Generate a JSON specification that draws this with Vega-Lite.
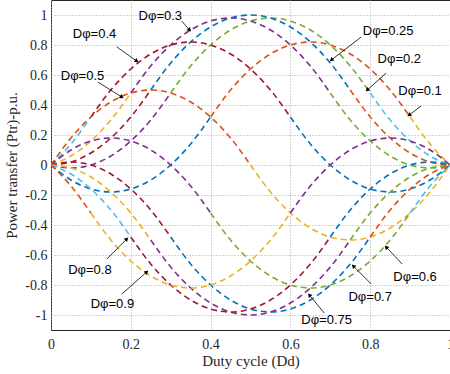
{
  "$schema": "https://vega.github.io/schema/vega-lite/v6.json",
  "width": 399,
  "height": 330,
  "autosize": {"type": "none"},
  "padding": {"left": 51, "top": 0, "right": 0, "bottom": 44},
  "background": "white",
  "config": {
    "view": {"stroke": "#262626", "strokeWidth": 1},
    "axis": {
      "labelFont": "Liberation Serif", "labelFontSize": 14, "labelColor": "#262626",
      "titleFont": "Liberation Serif", "titleFontSize": 15, "titleFontWeight": "normal", "titleColor": "#262626",
      "grid": true, "gridColor": "#a8a8a8", "gridDash": [1, 2], "gridWidth": 1,
      "domain": false, "ticks": false, "labelOverlap": false, "labelBound": false
    }
  },
  "datasets": {
    "curves": [
      {"piece": "0.1a", "ci": 1, "d": [0,0.05,0.1,0.15,0.2,0.25,0.3,0.35,0.4], "p": [0,-0.1,-0.16,-0.18,-0.16,-0.1,0,0.14,0.32]},
      {"piece": "0.1b", "ci": 2, "d": [0.4,0.45,0.5,0.55,0.6,0.65,0.7,0.75,0.8,0.85,0.9], "p": [0.32,0.5,0.64,0.74,0.8,0.82,0.8,0.74,0.64,0.5,0.32]},
      {"piece": "0.1c", "ci": 3, "d": [0.9,0.95,1], "p": [0.32,0.14,0]},
      {"piece": "0.2a", "ci": 4, "d": [0,0.05,0.1,0.15,0.2,0.25,0.3], "p": [0,-0.02,0,0.06,0.16,0.3,0.48]},
      {"piece": "0.2b", "ci": 5, "d": [0.3,0.35,0.4,0.45,0.5,0.55,0.6,0.65,0.7,0.75,0.8], "p": [0.48,0.66,0.8,0.9,0.96,0.98,0.96,0.9,0.8,0.66,0.48]},
      {"piece": "0.2c", "ci": 6, "d": [0.8,0.85,0.9,0.95,1], "p": [0.48,0.3,0.16,0.06,0]},
      {"piece": "0.25a", "ci": 7, "d": [0,0.05,0.1,0.15,0.2,0.25], "p": [0,0.02,0.08,0.18,0.32,0.5]},
      {"piece": "0.25b", "ci": 1, "d": [0.25,0.3,0.35,0.4,0.45,0.5,0.55,0.6,0.65,0.7,0.75], "p": [0.5,0.68,0.82,0.92,0.98,1,0.98,0.92,0.82,0.68,0.5]},
      {"piece": "0.25c", "ci": 2, "d": [0.75,0.8,0.85,0.9,0.95,1], "p": [0.5,0.32,0.18,0.08,0.02,0]},
      {"piece": "0.3a", "ci": 3, "d": [0,0.05,0.1,0.15,0.2], "p": [0,0.06,0.16,0.3,0.48]},
      {"piece": "0.3b", "ci": 4, "d": [0.2,0.25,0.3,0.35,0.4,0.45,0.5,0.55,0.6,0.65,0.7], "p": [0.48,0.66,0.8,0.9,0.96,0.98,0.96,0.9,0.8,0.66,0.48]},
      {"piece": "0.3c", "ci": 5, "d": [0.7,0.75,0.8,0.85,0.9,0.95,1], "p": [0.48,0.3,0.16,0.06,0,-0.02,0]},
      {"piece": "0.4a", "ci": 6, "d": [0,0.05,0.1], "p": [0,0.14,0.32]},
      {"piece": "0.4b", "ci": 7, "d": [0.1,0.15,0.2,0.25,0.3,0.35,0.4,0.45,0.5,0.55,0.6], "p": [0.32,0.5,0.64,0.74,0.8,0.82,0.8,0.74,0.64,0.5,0.32]},
      {"piece": "0.4c", "ci": 1, "d": [0.6,0.65,0.7,0.75,0.8,0.85,0.9,0.95,1], "p": [0.32,0.14,0,-0.1,-0.16,-0.18,-0.16,-0.1,0]},
      {"piece": "0.5a", "ci": 2, "d": [0,0.05,0.1,0.15,0.2,0.25,0.3,0.35,0.4,0.45,0.5], "p": [0,0.18,0.32,0.42,0.48,0.5,0.48,0.42,0.32,0.18,0]},
      {"piece": "0.5b", "ci": 3, "d": [0.5,0.55,0.6,0.65,0.7,0.75,0.8,0.85,0.9,0.95,1], "p": [0,-0.18,-0.32,-0.42,-0.48,-0.5,-0.48,-0.42,-0.32,-0.18,0]},
      {"piece": "0.6a", "ci": 4, "d": [0,0.05,0.1,0.15,0.2,0.25,0.3,0.35,0.4], "p": [0,0.1,0.16,0.18,0.16,0.1,0,-0.14,-0.32]},
      {"piece": "0.6b", "ci": 5, "d": [0.4,0.45,0.5,0.55,0.6,0.65,0.7,0.75,0.8,0.85,0.9], "p": [-0.32,-0.5,-0.64,-0.74,-0.8,-0.82,-0.8,-0.74,-0.64,-0.5,-0.32]},
      {"piece": "0.6c", "ci": 6, "d": [0.9,0.95,1], "p": [-0.32,-0.14,0]},
      {"piece": "0.7a", "ci": 7, "d": [0,0.05,0.1,0.15,0.2,0.25,0.3], "p": [0,0.02,0,-0.06,-0.16,-0.3,-0.48]},
      {"piece": "0.7b", "ci": 1, "d": [0.3,0.35,0.4,0.45,0.5,0.55,0.6,0.65,0.7,0.75,0.8], "p": [-0.48,-0.66,-0.8,-0.9,-0.96,-0.98,-0.96,-0.9,-0.8,-0.66,-0.48]},
      {"piece": "0.7c", "ci": 2, "d": [0.8,0.85,0.9,0.95,1], "p": [-0.48,-0.3,-0.16,-0.06,0]},
      {"piece": "0.75a", "ci": 3, "d": [0,0.05,0.1,0.15,0.2,0.25], "p": [0,-0.02,-0.08,-0.18,-0.32,-0.5]},
      {"piece": "0.75b", "ci": 4, "d": [0.25,0.3,0.35,0.4,0.45,0.5,0.55,0.6,0.65,0.7,0.75], "p": [-0.5,-0.68,-0.82,-0.92,-0.98,-1,-0.98,-0.92,-0.82,-0.68,-0.5]},
      {"piece": "0.75c", "ci": 5, "d": [0.75,0.8,0.85,0.9,0.95,1], "p": [-0.5,-0.32,-0.18,-0.08,-0.02,0]},
      {"piece": "0.8a", "ci": 6, "d": [0,0.05,0.1,0.15,0.2], "p": [0,-0.06,-0.16,-0.3,-0.48]},
      {"piece": "0.8b", "ci": 7, "d": [0.2,0.25,0.3,0.35,0.4,0.45,0.5,0.55,0.6,0.65,0.7], "p": [-0.48,-0.66,-0.8,-0.9,-0.96,-0.98,-0.96,-0.9,-0.8,-0.66,-0.48]},
      {"piece": "0.8c", "ci": 1, "d": [0.7,0.75,0.8,0.85,0.9,0.95,1], "p": [-0.48,-0.3,-0.16,-0.06,0,0.02,0]},
      {"piece": "0.9a", "ci": 2, "d": [0,0.05,0.1], "p": [0,-0.14,-0.32]},
      {"piece": "0.9b", "ci": 3, "d": [0.1,0.15,0.2,0.25,0.3,0.35,0.4,0.45,0.5,0.55,0.6], "p": [-0.32,-0.5,-0.64,-0.74,-0.8,-0.82,-0.8,-0.74,-0.64,-0.5,-0.32]},
      {"piece": "0.9c", "ci": 4, "d": [0.6,0.65,0.7,0.75,0.8,0.85,0.9,0.95,1], "p": [-0.32,-0.14,0,0.1,0.16,0.18,0.16,0.1,0]}
    ],
    "notes": [
      {"t": "Dφ=0.3", "tx": 0.274, "ty": 0.993, "x1": 0.3275, "y1": 0.96, "x2": 0.3475, "y2": 0.90, "ang": 138},
      {"t": "Dφ=0.4", "tx": 0.109, "ty": 0.873, "x1": 0.165, "y1": 0.787, "x2": 0.215, "y2": 0.693, "ang": 125},
      {"t": "Dφ=0.5", "tx": 0.079, "ty": 0.593, "x1": 0.1175, "y1": 0.553, "x2": 0.1775, "y2": 0.453, "ang": 122},
      {"t": "Dφ=0.25", "tx": 0.845, "ty": 0.893, "x1": 0.7775, "y1": 0.853, "x2": 0.7025, "y2": 0.70, "ang": 232},
      {"t": "Dφ=0.2", "tx": 0.873, "ty": 0.707, "x1": 0.84, "y1": 0.613, "x2": 0.7925, "y2": 0.50, "ang": 228},
      {"t": "Dφ=0.1", "tx": 0.925, "ty": 0.493, "x1": 0.9275, "y1": 0.393, "x2": 0.8975, "y2": 0.333, "ang": 233},
      {"t": "Dφ=0.8", "tx": 0.0975, "ty": -0.70, "x1": 0.14, "y1": -0.627, "x2": 0.19, "y2": -0.493, "ang": 45},
      {"t": "Dφ=0.9", "tx": 0.154, "ty": -0.927, "x1": 0.1775, "y1": -0.86, "x2": 0.24, "y2": -0.713, "ang": 49},
      {"t": "Dφ=0.75", "tx": 0.691, "ty": -1.033, "x1": 0.685, "y1": -0.987, "x2": 0.6475, "y2": -0.867, "ang": 320},
      {"t": "Dφ=0.7", "tx": 0.80, "ty": -0.88, "x1": 0.8025, "y1": -0.793, "x2": 0.7575, "y2": -0.673, "ang": 315},
      {"t": "Dφ=0.6", "tx": 0.9125, "ty": -0.747, "x1": 0.88, "y1": -0.66, "x2": 0.84, "y2": -0.547, "ang": 317}
    ]
  },
  "layer": [
    {
      "data": {"name": "curves"},
      "transform": [{"flatten": ["d", "p"]}],
      "mark": {"type": "line", "interpolate": "monotone", "strokeDash": [6, 4], "strokeWidth": 1.6, "clip": true},
      "encoding": {
        "x": {"field": "d", "type": "quantitative", "title": "Duty cycle (Dd)",
              "scale": {"domain": [0, 1], "nice": false, "zero": false},
              "axis": {"values": [0, 0.2, 0.4, 0.6, 0.8, 1], "tickCount": 20, "labelExpr": "'' + datum.value", "labelPadding": 7, "titlePadding": 2, "labelFlush": false}},
        "y": {"field": "p", "type": "quantitative", "title": "Power transfer (Ptr)-p.u.",
              "scale": {"domain": [-1.1, 1.1], "nice": false, "zero": false},
              "axis": {"values": [-1, -0.8, -0.6, -0.4, -0.2, 0, 0.2, 0.4, 0.6, 0.8, 1], "tickCount": 30, "labelExpr": "'' + datum.value", "labelPadding": 4, "titlePadding": 5}},
        "color": {"field": "ci", "type": "nominal", "legend": null,
                  "scale": {"domain": [1, 2, 3, 4, 5, 6, 7], "range": ["#0072BD", "#D95319", "#EDB120", "#7E2F8E", "#77AC30", "#4DBEEE", "#A2142F"]}},
        "detail": {"field": "piece", "type": "nominal"}
      }
    },
    {
      "data": {"name": "notes"},
      "mark": {"type": "rule", "color": "black", "strokeWidth": 0.8},
      "encoding": {
        "x": {"field": "x1", "type": "quantitative", "title": "Duty cycle (Dd)"},
        "y": {"field": "y1", "type": "quantitative", "title": "Power transfer (Ptr)-p.u."},
        "x2": {"field": "x2"},
        "y2": {"field": "y2"}
      }
    },
    {
      "data": {"name": "notes"},
      "mark": {"type": "point", "shape": "triangle-up", "filled": true, "color": "black", "size": 22, "opacity": 1},
      "encoding": {
        "x": {"field": "x2", "type": "quantitative", "title": "Duty cycle (Dd)"},
        "y": {"field": "y2", "type": "quantitative", "title": "Power transfer (Ptr)-p.u."},
        "angle": {"field": "ang", "type": "quantitative", "scale": null}
      }
    },
    {
      "data": {"name": "notes"},
      "mark": {"type": "text", "font": "Liberation Sans", "fontSize": 13, "color": "black", "align": "center", "baseline": "middle"},
      "encoding": {
        "x": {"field": "tx", "type": "quantitative", "title": "Duty cycle (Dd)"},
        "y": {"field": "ty", "type": "quantitative", "title": "Power transfer (Ptr)-p.u."},
        "text": {"field": "t"}
      }
    }
  ]
}
